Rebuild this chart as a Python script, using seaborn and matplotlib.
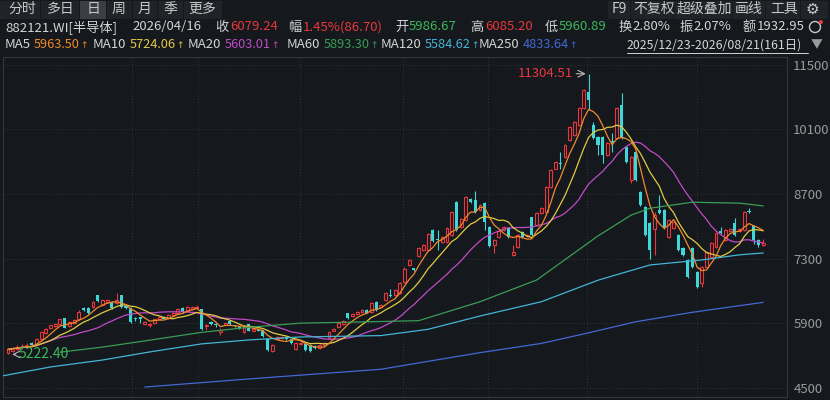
import numpy as np
import pandas as pd
import seaborn as sns
import matplotlib.pyplot as plt
from matplotlib.lines import Line2D
from matplotlib.patches import Rectangle, Circle
from matplotlib.transforms import IdentityTransform

# daily candles 2025/12/23 - 2026/08/21 (161 days)
opens = [5260, 5300, 5340, 5380, 5420, 5480, 5440, 5560, 5680, 5800,
         5830, 5880, 6010, 5830, 5900, 5980, 6200, 6230, 6250, 6510,
         6300, 6350, 6360, 6340, 6500, 6280, 6230, 6000, 6010, 5880,
         5850, 5900, 5980, 6030, 6010, 6080, 6110, 6220, 6160, 6200,
         6220, 6200, 5840, 5920, 5880, 5700, 5870, 5950, 5860, 5820,
         5710, 5880, 5740, 5760, 5750, 5550, 5300, 5560, 5580, 5600,
         5550, 5340, 5450, 5450, 5430, 5400, 5360, 5420, 5580, 5740,
         5820, 5890, 6120, 6060, 6100, 6150, 6180, 6140, 6360, 6250,
         6400, 6500, 6500, 6550, 6800, 7160, 7080, 7350, 7480, 7480,
         7920, 7720, 7650, 7650, 7810, 8530, 7980, 8130, 8590, 8570,
         8350, 8500, 7980, 7600, 7760, 7920, 7960, 7370, 7550, 7870,
         7790, 8200, 8030, 8290, 8310, 8850, 9250, 9350, 9500, 9870,
         9980, 10200, 10560, 10910, 10200, 9930, 9930, 9540, 9830, 9910,
         10620, 9720, 9000, 9600, 8740, 8420, 8070, 7950, 8350, 8350,
         7770, 7960, 7810, 7530, 7270, 7530, 7010, 6770, 7120, 7330,
         7550, 7900, 7700, 7900, 8070, 7890, 7910, 8310, 8000, 7700,
         7600]
closes = [5330, 5360, 5390, 5410, 5420, 5420, 5560, 5700, 5780, 5850,
          5880, 5980, 5800, 5920, 5960, 6150, 6195, 6110, 6360, 6380,
          6400, 6400, 6230, 6400, 6250, 6220, 5920, 5990, 6000, 5920,
          5890, 5980, 6040, 6000, 6080, 6120, 6200, 6150, 6240, 6250,
          6260, 5770, 5870, 5880, 5850, 5750, 5900, 5880, 5830, 5790,
          5820, 5730, 5770, 5740, 5620, 5320, 5420, 5600, 5610, 5560,
          5470, 5470, 5480, 5320, 5300, 5370, 5430, 5480, 5710, 5780,
          5900, 5950, 6010, 6100, 6140, 6180, 6130, 6340, 6180, 6300,
          6550, 6490, 6620, 6770, 7080, 7270, 7060, 7530, 7590, 7830,
          7680, 7700, 7760, 7960, 8300, 7920, 8150, 8630, 8530, 8300,
          8460, 8090, 7570, 7700, 7900, 7980, 7760, 7440, 7810, 7770,
          7810, 7810, 8290, 8400, 8850, 9220, 9400, 9340, 9760, 10150,
          10260, 10560, 10950, 10740, 9910, 9760, 9540, 9800, 9820, 10560,
          9910, 9390, 9500, 9000, 8460, 7810, 7480, 8250, 8280, 7960,
          8130, 8100, 7480, 7370, 6900, 7120, 6680, 7120, 7440, 7640,
          7850, 7850, 7920, 7950, 7810, 7930, 8300, 8300, 7700, 7600,
          7640]
highs = [5360, 5390, 5420, 5440, 5470, 5500, 5580, 5720, 5800, 5870,
         5900, 6000, 6020, 5940, 5980, 6180, 6250, 6240, 6380, 6520,
         6420, 6430, 6380, 6550, 6510, 6300, 6240, 6040, 6020, 5940,
         5910, 6000, 6060, 6050, 6100, 6150, 6230, 6240, 6280, 6270,
         6290, 6210, 5890, 5940, 5900, 5800, 5920, 5960, 5870, 5840,
         5840, 5890, 5790, 5780, 5760, 5560, 5440, 5620, 5630, 5620,
         5560, 5490, 5500, 5460, 5440, 5420, 5450, 5500, 5720, 5800,
         5920, 5970, 6130, 6120, 6160, 6200, 6200, 6360, 6370, 6320,
         6570, 6650, 6640, 6790, 7120, 7290, 7100, 7550, 7610, 7850,
         7940, 7920, 7780, 7980, 8320, 8540, 8170, 8650, 8610, 8760,
         8480, 8520, 8000, 7720, 7920, 8000, 7980, 7590, 7830, 7890,
         7830, 8210, 8310, 8420, 8870, 9240, 9420, 9600, 9780, 10170,
         10280, 10580, 10970, 11304.51, 10250, 9950, 9950, 9820, 10020, 10580,
         10880, 9740, 9520, 9620, 8760, 8440, 8090, 8300, 8680, 8370,
         8150, 8120, 7830, 7550, 7290, 7550, 7030, 7140, 7460, 7660,
         7870, 7990, 7940, 7970, 8180, 7950, 8320, 8400, 8020, 7720,
         7720]
lows = [5222.40, 5280, 5320, 5350, 5380, 5400, 5430, 5540, 5660, 5780,
        5810, 5860, 5790, 5810, 5880, 5960, 6170, 6090, 6230, 6360,
        6280, 6330, 6210, 6320, 6230, 6200, 5900, 5940, 5900, 5850,
        5820, 5880, 5960, 5980, 5990, 6060, 6100, 6130, 6150, 6180,
        6200, 5750, 5760, 5860, 5820, 5640, 5850, 5860, 5810, 5770,
        5690, 5720, 5720, 5720, 5600, 5300, 5280, 5540, 5560, 5540,
        5450, 5320, 5430, 5300, 5280, 5350, 5340, 5400, 5560, 5720,
        5800, 5870, 5990, 6040, 6080, 6130, 6110, 6130, 6160, 6230,
        6380, 6470, 6480, 6530, 6780, 7140, 7040, 7330, 7460, 7460,
        7660, 7480, 7630, 7630, 7790, 7900, 7960, 8110, 8510, 8280,
        8330, 7920, 7550, 7420, 7740, 7900, 7740, 7350, 7530, 7750,
        7770, 7790, 8010, 8270, 8290, 8830, 9230, 9250, 9480, 9850,
        9960, 10180, 10540, 10520, 9890, 9540, 9370, 9520, 9600, 9890,
        9890, 9370, 8940, 8980, 8440, 7790, 7300, 7370, 8260, 7940,
        7750, 7940, 7460, 7350, 6880, 7100, 6660, 6680, 7100, 7310,
        7530, 7830, 7680, 7880, 7790, 7870, 7890, 8280, 7620, 7560,
        7580]

# long moving averages read as (day index, value) points
ma60_day = [11, 20, 30, 41, 51, 62, 72, 87, 100, 112, 125, 132, 136, 145, 155, 160]
ma60_val = [5270, 5380, 5530, 5700, 5810, 5900, 5920, 5953, 6364, 6834, 7790, 8240, 8390, 8520, 8500, 8440]
ma120_day = [-1, 9, 20, 30, 41, 51, 62, 79, 89, 100, 113, 125, 136, 147, 155, 160]
ma120_val = [4760, 4950, 5100, 5275, 5450, 5535, 5600, 5630, 5766, 6054, 6364, 6830, 7160, 7270, 7380, 7420]
ma250_day = [29, 51, 79, 100, 113, 123, 133, 145, 160]
ma250_val = [4515, 4690, 4900, 5260, 5460, 5690, 5930, 6135, 6350]

# header values
ma_names = ["MA5", "MA10", "MA20", "MA60", "MA120", "MA250"]
ma_last = ["5963.50", "5724.06", "5603.01", "5893.30", "5584.62", "4833.64"]

yticks = [4500, 5900, 7300, 8700, 10100, 11500]
high_label = "11304.51"
low_label = "5222.40"

BG = "#15181d"
RED = "#e8383d"
CYAN = "#3fd6d8"
GREEN = "#3cb85a"
WHITE = "#d4d4d4"
GREY = "#9a9a9a"
MA_COLORS = {"MA5": "#f08a2a", "MA10": "#e2c943", "MA20": "#c04bc6",
             "MA60": "#3a9d55", "MA120": "#45b4d6", "MA250": "#4468d4"}

sns.set_theme(style="dark", rc={"axes.facecolor": BG, "figure.facecolor": BG})
plt.rcParams["font.family"] = ["Noto Sans CJK SC", "DejaVu Sans"]

W, H = 830, 400
fig = plt.figure(figsize=(8.3, 4.0), dpi=100, facecolor=BG)
ax = fig.add_axes([3 / W, 1 - 397 / H, 784 / W, 340 / H])
ax.set_facecolor(BG)

day = np.arange(len(closes))
o, hi, lo, c = map(np.array, (opens, highs, lows, closes))
up = c >= o

# wicks then bodies (red hollow = up, cyan solid = down)
ax.vlines(day[up], lo[up], hi[up], color=RED, lw=0.8, zorder=2)
ax.vlines(day[~up], lo[~up], hi[~up], color=CYAN, lw=0.8, zorder=2)
ax.bar(day[up], np.maximum(c[up] - o[up], 1), bottom=o[up], width=0.62,
       facecolor=BG, edgecolor=RED, linewidth=0.8, zorder=3)
ax.bar(day[~up], np.maximum(o[~up] - c[~up], 25), bottom=c[~up], width=0.66,
       color=CYAN, linewidth=0, zorder=3)

s = pd.Series(closes)
for n, key in [(20, "MA20"), (10, "MA10"), (5, "MA5")]:
    sns.lineplot(x=day, y=s.rolling(n, min_periods=1).mean().values,
                 color=MA_COLORS[key], lw=0.9, ax=ax, zorder=4)
sns.lineplot(x=ma60_day, y=ma60_val, color=MA_COLORS["MA60"], lw=0.9, ax=ax, zorder=4)
sns.lineplot(x=ma120_day, y=ma120_val, color=MA_COLORS["MA120"], lw=0.9, ax=ax, zorder=4)
sns.lineplot(x=ma250_day, y=ma250_val, color=MA_COLORS["MA250"], lw=0.9, ax=ax, zorder=4)

ax.set_xlim(-1.06, 165.04)
ax.set_ylim(4299, 11667)
ax.set_xlabel("")
ax.set_ylabel("")
ax.set_xticks([])
ax.set_yticks(yticks)
ax.set_yticklabels([str(v) for v in yticks], color=GREY, fontsize=9.5)
ax.yaxis.tick_right()
ax.tick_params(axis="y", length=0, pad=4.5)
ax.grid(False)
for v in yticks:
    ax.axhline(v, color="#30343b", lw=0.7, ls=(0, (1, 2)), zorder=1)
for gx in [26.3, 40.3, 61.9, 83.7, 101.7, 122.7, 146.0]:
    ax.axvline(gx, color="#30343b", lw=0.7, ls=(0, (1, 2)), zorder=1)
for sp in ax.spines.values():
    sp.set_visible(True)
    sp.set_color("#33373d")
    sp.set_linewidth(0.8)

# extreme labels
ax.text(119.6, 11304.51, high_label, color=RED, fontsize=9.5, ha="right", va="center")
ax.annotate("", xy=(123, 11304.51), xytext=(119.8, 11304.51),
            arrowprops=dict(arrowstyle="->", color="#b8b8b8", lw=0.8))
ax.text(2.2, 5222.40, low_label, color=GREEN, fontsize=10, ha="left", va="center", zorder=5)
ax.annotate("", xy=(0.3, 5222.40), xytext=(2.1, 5222.40),
            arrowprops=dict(arrowstyle="->", color="#b8b8b8", lw=0.8), zorder=5)


def put(x, y, text, color=WHITE, size=9.5, **kw):
    return fig.text(x / W, 1 - y / H, text, color=color, fontsize=size,
                    va="center", ha="left", **kw)


def box(x0, x1, color):
    fig.patches.append(Rectangle((x0 / W, 1 - 19 / H), (x1 - x0) / W, 18 / H,
                                 transform=fig.transFigure, facecolor=color, edgecolor="none"))


# top tab row
for x0, x1 in [(0, 40), (41, 79), (107, 132), (133, 157), (158, 183), (184, 222),
               (608, 630), (631, 673), (674, 732), (733, 765), (766, 800), (801, 828)]:
    box(x0, x1, "#202328")
box(80, 106, "#3b3e45")
for x, t in [(8, "分时"), (47, "多日"), (87, "日"), (112, "周"), (138, "月"), (163, "季"), (188, "更多"),
             (612, "F9"), (633, "不复权"), (677, "超级叠加"), (735, "画线"), (770, "工具")]:
    put(x, 9, t, color="#c8c8c8", size=10)
put(806, 9, "⚙", color="#c8c8c8", size=11, family="DejaVu Sans")

# quote row
for x, t, col in [(5, "882121.WI[半导体]", WHITE), (132, "2026/04/16", WHITE),
                  (215, "收", WHITE), (230, "6079.24", RED),
                  (288, "幅", WHITE), (303, "1.45%(86.70)", RED),
                  (395, "开", WHITE), (409, "5986.67", GREEN),
                  (470, "高", WHITE), (485, "6085.20", RED),
                  (545, "低", WHITE), (559, "5960.89", GREEN),
                  (619, "换", WHITE), (632, "2.80%", WHITE),
                  (680, "振", WHITE), (693, "2.07%", WHITE),
                  (743, "额", WHITE), (757, "1932.95", WHITE)]:
    put(x, 27, t, col)
fig.add_artist(Circle((815, H - 27), 5.5, transform=IdentityTransform(),
                      facecolor="none", edgecolor="#c8c8c8", lw=1.0))
fig.add_artist(Circle((821, H - 22), 2, transform=IdentityTransform(),
                      facecolor=RED, edgecolor="none"))

# moving average row: label, value, then a small up arrow right after the value
renderer = fig.canvas.get_renderer()
label_x = [5, 93, 188, 287, 381, 479]
for lx, name, val in zip(label_x, ma_names, ma_last):
    lab = put(lx, 45, name, WHITE)
    vx = lab.get_window_extent(renderer).x1 + 3
    t = fig.text(vx / W, 1 - 45 / H, val, color=MA_COLORS[name], fontsize=9.2,
                 va="center", ha="left")
    x1 = t.get_window_extent(renderer).x1
    put(x1 + 0.5, 45.5, "↑", MA_COLORS[name], size=6.5, family="DejaVu Sans")
put(627, 45, "2025/12/23-2026/08/21(161日)", WHITE, size=8.9)
fig.add_artist(Line2D([627 / W, 808 / W], [1 - 53 / H, 1 - 53 / H], color=WHITE, lw=0.7))
put(811, 45, "▼", GREY, size=8.5)

fig.savefig("out.png", dpi=100, facecolor=BG)
